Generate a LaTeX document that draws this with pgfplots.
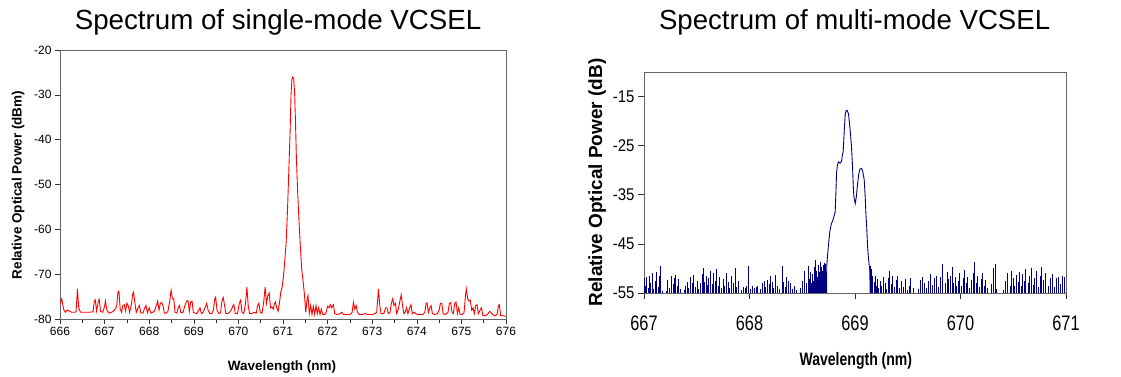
\documentclass[border=0pt]{standalone}
\usepackage{fontspec}
\setmainfont{Liberation Sans}
\newfontfamily\condensed[FakeStretch=0.78]{Liberation Sans}
\newfontfamily\condensedy[FakeStretch=0.88]{Liberation Sans}
\usepackage{pgfplots}
\usepackage{pgfplotstable}
\pgfplotsset{compat=1.18}
\definecolor{navyblue}{RGB}{0,0,128}

\pgfplotstableread{
x y
666.00 -76.5
666.04 -75.5
666.08 -77.8
666.12 -78.5
666.16 -78.0
666.20 -78.2
666.26 -78.5
666.32 -78.5
666.36 -78.4
666.39 -73.3
666.42 -77.5
666.46 -78.5
666.55 -78.5
666.65 -78.5
666.74 -78.4
666.77 -76.0
666.79 -75.7
666.82 -78.2
666.86 -76.0
666.88 -75.6
666.91 -78.3
666.96 -78.5
666.99 -77.5
667.02 -76.0
667.05 -78.0
667.10 -78.7
667.16 -78.5
667.22 -78.0
667.27 -77.2
667.30 -74.0
667.32 -73.8
667.35 -77.8
667.38 -78.5
667.41 -77.0
667.44 -76.8
667.47 -78.2
667.50 -76.5
667.53 -77.0
667.56 -78.5
667.60 -76.8
667.63 -74.5
667.65 -74.0
667.68 -76.5
667.71 -78.5
667.75 -77.5
667.78 -77.0
667.81 -78.6
667.86 -78.7
667.90 -77.5
667.93 -77.0
667.96 -78.6
668.00 -77.5
668.04 -78.7
668.08 -78.5
668.12 -78.2
668.16 -77.0
668.19 -76.0
668.22 -78.0
668.25 -76.5
668.28 -76.3
668.31 -77.0
668.34 -78.7
668.38 -78.7
668.42 -78.3
668.46 -76.0
668.49 -73.6
668.52 -75.5
668.55 -75.5
668.58 -78.5
668.62 -78.7
668.65 -77.5
668.68 -77.0
668.71 -78.6
668.76 -78.5
668.80 -77.0
668.84 -76.0
668.87 -75.9
668.90 -78.3
668.93 -76.2
668.96 -76.0
668.99 -78.5
669.03 -78.7
669.07 -78.8
669.11 -78.0
669.14 -77.5
669.17 -78.8
669.21 -78.5
669.25 -77.5
669.29 -76.5
669.32 -78.0
669.36 -78.8
669.40 -78.8
669.44 -78.0
669.47 -75.5
669.49 -75.1
669.52 -78.0
669.56 -78.8
669.60 -78.6
669.63 -76.0
669.66 -75.2
669.69 -77.0
669.72 -78.8
669.76 -78.8
669.80 -78.5
669.84 -78.0
669.88 -77.0
669.90 -76.8
669.93 -78.8
669.98 -78.8
670.02 -76.5
670.05 -75.8
670.08 -78.5
670.12 -78.8
670.16 -76.5
670.19 -72.9
670.22 -77.0
670.25 -78.8
670.30 -78.8
670.35 -78.5
670.40 -78.7
670.43 -77.0
670.46 -76.5
670.49 -78.5
670.53 -78.7
670.57 -76.0
670.60 -72.9
670.63 -76.5
670.66 -74.8
670.69 -74.2
670.72 -77.5
670.75 -77.3
670.78 -77.8
670.81 -76.5
670.83 -76.2
670.86 -77.5
670.89 -78.3
670.92 -76.5
670.95 -74.0
670.98 -73.0
671.01 -70.5
671.04 -67.0
671.07 -63.0
671.10 -56.0
671.13 -47.0
671.16 -38.0
671.18 -30.0
671.20 -26.5
671.22 -26.0
671.24 -26.5
671.26 -29.5
671.28 -36.0
671.30 -44.0
671.33 -52.0
671.36 -58.5
671.39 -64.0
671.42 -69.0
671.45 -71.5
671.48 -74.5
671.51 -78.5
671.54 -75.5
671.56 -74.8
671.59 -78.8
671.62 -77.0
671.65 -79.0
671.68 -77.2
671.71 -79.0
671.74 -77.0
671.77 -78.8
671.80 -77.5
671.83 -79.0
671.86 -77.8
671.89 -79.0
671.93 -79.0
671.97 -78.5
672.00 -77.2
672.03 -77.5
672.06 -76.8
672.09 -77.5
672.13 -76.8
672.16 -78.8
672.22 -79.0
672.28 -78.8
672.32 -78.5
672.36 -79.0
672.44 -79.0
672.50 -79.0
672.55 -78.5
672.58 -76.3
672.61 -77.8
672.64 -77.0
672.67 -78.5
672.71 -79.0
672.78 -79.0
672.84 -78.8
672.90 -79.0
673.00 -79.0
673.06 -78.8
673.10 -78.5
673.12 -76.0
673.14 -73.3
673.17 -77.0
673.20 -78.8
673.26 -78.8
673.30 -77.5
673.33 -77.5
673.36 -78.8
673.40 -78.5
673.43 -76.5
673.46 -75.5
673.49 -77.0
673.52 -76.5
673.55 -78.8
673.58 -78.0
673.62 -76.0
673.65 -74.6
673.68 -77.0
673.71 -78.8
673.74 -78.5
673.77 -77.5
673.80 -78.8
673.84 -77.5
673.87 -76.8
673.90 -78.8
673.94 -78.5
673.98 -78.8
674.02 -79.0
674.08 -79.0
674.14 -79.0
674.18 -78.5
674.21 -76.5
674.23 -76.4
674.26 -78.5
674.29 -77.5
674.32 -77.0
674.35 -78.8
674.40 -79.0
674.46 -78.8
674.50 -78.0
674.53 -76.5
674.56 -76.5
674.59 -78.8
674.64 -79.0
674.70 -78.5
674.73 -76.5
674.76 -76.3
674.79 -78.5
674.82 -78.8
674.85 -76.5
674.88 -76.2
674.91 -78.8
674.94 -77.5
674.97 -79.0
675.02 -79.0
675.06 -78.5
675.09 -75.0
675.11 -73.3
675.14 -75.5
675.17 -76.0
675.20 -75.8
675.23 -78.0
675.26 -77.5
675.29 -78.8
675.32 -77.0
675.35 -76.8
675.38 -78.8
675.42 -78.0
675.45 -77.5
675.48 -79.2
675.54 -79.3
675.60 -78.8
675.63 -78.3
675.66 -78.5
675.70 -79.0
675.75 -79.3
675.80 -79.0
675.83 -77.0
675.85 -76.8
675.88 -79.2
675.94 -79.3
676.00 -79.4
}\singlemode

\pgfplotstableread{
x y
668.730 -56
668.732 -49.5
668.745 -46.0
668.761 -42.5
668.775 -41.0
668.793 -40.0
668.812 -38.5
668.820 -34.0
668.825 -30.5
668.833 -29.0
668.843 -28.3
668.858 -28.6
668.872 -28.2
668.880 -27.0
668.888 -26.2
668.898 -22.0
668.907 -18.6
668.915 -17.9
668.925 -17.8
668.938 -18.5
668.948 -20.5
668.957 -22.5
668.966 -25.0
668.976 -29.0
668.983 -33.0
668.989 -35.3
669.002 -36.8
669.012 -35.5
669.021 -33.5
669.034 -31.0
669.046 -29.8
669.060 -29.6
669.071 -30.0
669.087 -31.9
669.097 -35.5
669.103 -38.7
669.112 -42.0
669.119 -45.5
669.126 -47.5
669.134 -49.2
669.140 -50.5
669.145 -56
}\multipeak

\pgfplotstableread{
x y
667.005 -52.0
667.015 -53.5
667.025 -51.8
667.040 -54.0
667.050 -51.5
667.065 -53.0
667.080 -51.0
667.090 -54.2
667.105 -52.5
667.120 -50.8
667.135 -53.8
667.150 -51.6
667.160 -49.6
667.180 -54.5
667.215 -54.6
667.225 -52.3
667.240 -54.0
667.260 -51.5
667.275 -53.2
667.290 -52.0
667.300 -51.4
667.315 -53.6
667.330 -52.2
667.345 -54.1
667.380 -54.3
667.395 -53.5
667.410 -52.8
667.425 -54.0
667.440 -51.8
667.455 -53.0
667.470 -51.3
667.490 -53.8
667.505 -52.5
667.520 -54.2
667.535 -53.0
667.550 -51.2
667.560 -50.0
667.575 -52.8
667.590 -51.5
667.600 -53.4
667.615 -52.0
667.630 -50.5
667.645 -53.2
667.660 -51.0
667.675 -52.5
667.690 -50.2
667.705 -53.5
667.720 -51.8
667.735 -54.0
667.750 -52.2
667.765 -53.6
667.785 -51.0
667.800 -52.8
667.815 -54.0
667.830 -51.5
667.850 -53.0
667.865 -50.0
667.880 -53.8
667.900 -52.5
667.920 -54.3
667.945 -53.8
667.960 -54.0
667.975 -53.6
667.995 -49.6
668.010 -54.2
668.030 -53.5
668.045 -54.0
668.065 -53.8
668.080 -53.5
668.100 -54.2
668.120 -53.0
668.140 -52.5
668.155 -53.8
668.170 -52.4
668.185 -53.2
668.200 -51.6
668.215 -52.8
668.230 -54.0
668.250 -51.3
668.265 -53.5
668.285 -54.2
668.310 -49.6
668.325 -52.8
668.340 -53.8
668.355 -51.8
668.370 -52.5
668.390 -53.0
668.410 -54.1
668.430 -53.6
668.450 -54.4
668.480 -54.0
668.500 -52.5
668.520 -50.5
668.540 -53.0
668.555 -49.5
668.565 -52.2
668.575 -50.8
668.585 -53.0
668.595 -51.2
668.605 -52.5
668.615 -49.8
668.625 -48.2
668.635 -50.5
668.645 -51.8
668.655 -49.4
668.665 -50.8
668.675 -48.6
668.685 -49.8
668.695 -50.5
668.705 -49.2
668.715 -48.8
668.725 -49.0
669.150 -49.5
669.160 -50.2
669.170 -51.5
669.180 -52.8
669.190 -51.6
669.200 -53.5
669.210 -52.2
669.225 -54.0
669.240 -52.6
669.255 -53.5
669.270 -51.8
669.285 -53.0
669.300 -54.2
669.315 -52.0
669.330 -50.5
669.345 -53.2
669.360 -51.5
669.375 -53.8
669.390 -52.3
669.405 -51.5
669.420 -54.0
669.440 -52.6
669.460 -53.7
669.480 -52.2
669.500 -54.3
669.515 -53.5
669.530 -52.0
669.550 -54.0
669.600 -54.1
669.620 -52.4
669.640 -51.8
669.660 -53.0
669.680 -54.0
669.700 -52.5
669.715 -51.2
669.735 -53.4
669.750 -52.0
669.770 -51.6
669.790 -53.8
669.810 -51.8
669.830 -49.0
669.860 -53.0
669.875 -50.8
669.890 -52.2
669.905 -51.5
669.920 -49.8
669.935 -53.0
669.950 -51.8
669.965 -53.5
669.980 -52.5
669.995 -51.0
670.010 -53.6
670.025 -52.0
670.040 -50.4
670.055 -53.0
670.070 -51.8
670.085 -54.0
670.100 -52.4
670.120 -51.0
670.137 -48.6
670.150 -53.0
670.165 -51.5
670.180 -53.8
670.195 -52.2
670.210 -51.0
670.225 -53.5
670.240 -52.3
670.260 -54.0
670.290 -53.2
670.310 -50.0
670.330 -49.0
670.345 -54.2
670.410 -54.3
670.430 -52.5
670.450 -51.0
670.470 -53.5
670.485 -50.5
670.500 -52.0
670.515 -53.6
670.530 -51.4
670.545 -52.8
670.560 -50.8
670.575 -53.5
670.590 -51.2
670.605 -52.6
670.620 -50.2
670.640 -53.0
670.655 -51.6
670.670 -49.9
670.690 -53.4
670.705 -52.0
670.720 -50.5
670.740 -53.8
670.755 -51.5
670.770 -49.8
670.790 -52.4
670.810 -51.0
670.830 -53.5
670.850 -52.0
670.870 -51.2
670.890 -53.8
670.910 -52.0
670.930 -51.8
670.950 -53.2
670.970 -51.6
670.990 -51.8
}\multinoise

\begin{document}
\begin{tikzpicture}[x=1pt,y=1pt]
\useasboundingbox (0,0) rectangle (1121,377);
\begin{axis}[
  at={(60pt,58pt)}, anchor=south west, scale only axis,
  width=446pt, height=269pt,
  xmin=666, xmax=676, ymin=-80, ymax=-20,
  xtick={666,667,...,676}, ytick={-80,-70,...,-20},
  minor x tick num=1,
  xtick pos=left, ytick pos=left,
  tick align=outside, major tick length=5pt, minor tick length=4pt,
  axis line style={black!60},
  every tick/.style={black!80, line width=0.6pt},
  /pgf/number format/assume math mode=true,
  /pgf/number format/1000 sep={},
  tick label style={font=\fontsize{12}{12}\selectfont},
  title={Spectrum of single-mode VCSEL},
  title style={font=\fontsize{27.7}{30}\selectfont, at={(axis description cs:0.489,1.082)}, anchor=center},
  xlabel={Wavelength (nm)},
  xlabel style={font=\bfseries\fontsize{13.5}{14}\selectfont, at={(axis description cs:0.498,-0.18)}, anchor=center},
  ylabel={Relative Optical Power (dBm)},
  ylabel style={font=\bfseries\fontsize{13.5}{14}\selectfont, at={(axis description cs:-0.094,0.498)}, anchor=center},
]
\addplot[red, line width=0.9pt, mark=none] table[x=x,y=y] {\singlemode};
\end{axis}

\begin{axis}[
  at={(644pt,84pt)}, anchor=south west, scale only axis,
  width=422pt, height=221pt,
  xmin=667, xmax=671, ymin=-55, ymax=-10,
  xtick={667,668,...,671}, ytick={-55,-45,...,-15},
  xtick pos=left, ytick pos=left,
  tick align=outside, major tick length=6pt,
  axis line style={black!60},
  every tick/.style={black!80, line width=0.6pt},
  /pgf/number format/assume math mode=true,
  /pgf/number format/1000 sep={},
  xticklabel style={font=\condensed\fontsize{21}{21}\selectfont, yshift=-13pt},
  yticklabel style={font=\condensedy\fontsize{17}{17}\selectfont},
  title={Spectrum of multi-mode VCSEL},
  title style={font=\fontsize{27.6}{30}\selectfont, at={(axis description cs:0.499,1.199)}, anchor=center},
  xlabel={Wavelength (nm)},
  xlabel style={font=\condensed\bfseries\fontsize{18}{18}\selectfont, at={(axis description cs:0.502,-0.305)}, anchor=center},
  ylabel={Relative Optical Power (dB)},
  ylabel style={font=\bfseries\fontsize{19}{19}\selectfont, at={(axis description cs:-0.111,0.5)}, anchor=center},
]
\addplot[navyblue, line width=0.9pt, mark=none] table[x=x,y=y] {\multipeak};
\addplot[navyblue, mark=none, draw=none,
  error bars/.cd, y dir=minus, y explicit,
  error mark=none,
  error bar style={draw=navyblue, line width=1pt, solid}]
  table[x=x, y=y, y error expr=\thisrow{y}+56] {\multinoise};
\end{axis}
\end{tikzpicture}
\end{document}
